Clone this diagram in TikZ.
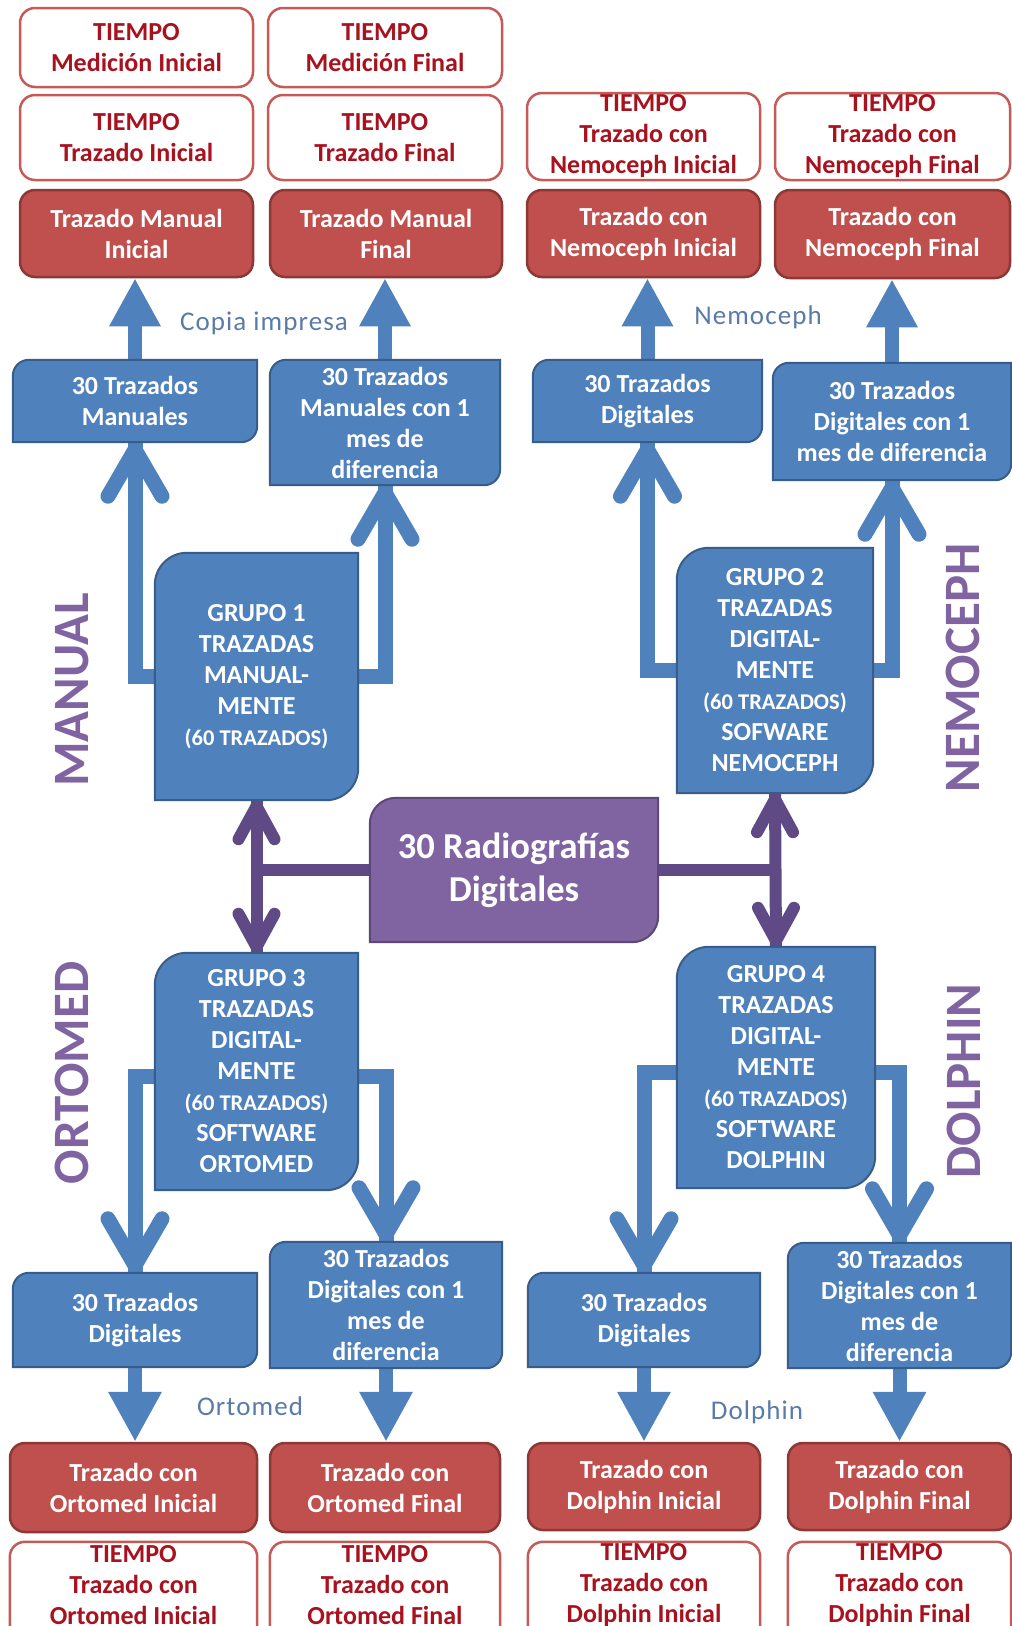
\documentclass[tikz,border=0pt]{standalone}
\usepackage{fontspec}
\setmainfont{Carlito}
\newfontfamily\lblfont[LetterSpace=4]{Carlito}
\usetikzlibrary{arrows.meta,calc}

\definecolor{bfill}{HTML}{4F81BD}
\definecolor{bline}{HTML}{385D8A}
\definecolor{rfill}{HTML}{C0504D}
\definecolor{rline}{HTML}{8C3836}
\definecolor{wline}{HTML}{C65A57}
\definecolor{rtext}{HTML}{A8121E}
\definecolor{pfill}{HTML}{8064A2}
\definecolor{pline}{HTML}{5C4776}
\definecolor{parrow}{HTML}{5F4A86}
\definecolor{lblcol}{HTML}{5A7BA8}

\pgfdeclarelayer{bglayer}
\pgfdeclarelayer{arrowlayer}
\pgfdeclarelayer{shapelayer}
\pgfsetlayers{bglayer,arrowlayer,shapelayer,main}

\newcommand\smallcount{\fontsize{22.5}{27}\selectfont}

\tikzset{
  txt/.style={inner sep=0pt, align=center, font=\bfseries\fontsize{26}{31}\selectfont},
  whitebox/.style={txt, fill=white, draw=wline, line width=2.5, rounded corners=15, text=rtext},
  whitetext/.style={txt, text=rtext},
  whiteshape/.style={fill=white, draw=wline, line width=2.5, rounded corners=15},
  redbox/.style={txt, fill=rfill, draw=rline, line width=2.5, rounded corners=15, text=white},
  bluetext/.style={txt, text=white},
  bluepath/.style={fill=bfill, draw=bline, line width=2},
  purplepath/.style={fill=pfill, draw=pline, line width=2},
  purpletext/.style={txt, text=white, font=\bfseries\fontsize{36.5}{43}\selectfont},
  bshaft/.style={draw=bfill, line width=14},
  belbow/.style={draw=bfill, line width=15},
  bchev/.style={draw=bfill, line width=15, line cap=round, line join=round},
  pshaft/.style={draw=parrow, line width=12},
  pchev/.style={draw=parrow, line width=12, line cap=round, line join=round},
  lbl/.style={inner sep=0pt, font=\lblfont\fontsize{27}{30}\selectfont, text=lblcol},
  vert/.style={inner sep=0pt, rotate=90, text=pfill, font=\bfseries\fontsize{51}{51}\selectfont},
  pics/bv/.style={code={\draw[bchev] (-27,54) -- (0,7.5) -- (27,54);}},
  pics/pv/.style={code={\draw[pchev] (-18,39) -- (0,6) -- (18,39);}},
}

% node from its corner coordinates: name, x1, y1, x2, y2, style, text
\newcommand\mkbox[7]{%
  \node[#6, minimum width={#4-#2}, minimum height={#5-#3}] (#1) at ({(#2+#4)/2},{(#3+#5)/2}) {#7};}

% box with rounded top-left and bottom-right corners: node, radius, style
\newcommand\diagshape[3]{%
  \begin{pgfonlayer}{shapelayer}
  \draw[#3] (#1.south west) -- ($(#1.north west)+(0,#2)$)
    .. controls ($(#1.north west)+(0,{0.45*#2})$) and ($(#1.north west)+({0.45*#2},0)$) .. ($(#1.north west)+(#2,0)$)
    -- (#1.north east) -- ($(#1.south east)+(0,-#2)$)
    .. controls ($(#1.south east)+(0,{-0.45*#2})$) and ($(#1.south east)+({-0.45*#2},0)$) .. ($(#1.south east)+(-#2,0)$)
    -- cycle;
  \end{pgfonlayer}}

% white box running past the lower edge of the page
\newcommand\openwhite[1]{%
  \begin{pgfonlayer}{shapelayer}
  \draw[whiteshape] (#1.north west) rectangle ($(#1.south east)+(0,40)$);
  \end{pgfonlayer}}

\begin{document}
\begin{tikzpicture}[x=1pt, y=-1pt]
\path[use as bounding box] (0,0) rectangle (1012,1626);
\begin{pgfonlayer}{bglayer}
  \fill[white] (0,0) rectangle (1012,1626);
\end{pgfonlayer}

% ---------- top: manual tracing ----------
\mkbox{w1}{20}{8}{253}{87}{whitebox}{TIEMPO\\Medición Inicial}
\mkbox{w2}{268}{8}{502}{87}{whitebox}{TIEMPO\\Medición Final}
\mkbox{w3}{20}{95}{253}{180}{whitebox}{TIEMPO\\Trazado Inicial}
\mkbox{w4}{268}{95}{502}{180}{whitebox}{TIEMPO\\Trazado Final}
\mkbox{r1}{20}{190}{253}{277}{redbox}{Trazado Manual\\Inicial}
\mkbox{r2}{270}{190}{502}{277}{redbox}{Trazado Manual\\Final}

% ---------- top: Nemoceph ----------
\mkbox{w5}{527}{93}{760}{180}{whitebox}{TIEMPO\\Trazado con\\Nemoceph Inicial}
\mkbox{w6}{775}{93}{1010}{180}{whitebox}{TIEMPO\\Trazado con\\Nemoceph Final}
\mkbox{r3}{527}{190}{760}{277}{redbox}{Trazado con\\Nemoceph Inicial}
\mkbox{r4}{775}{190}{1010}{278}{redbox}{Trazado con\\Nemoceph Final}

% ---------- tracing sets ----------
\mkbox{m1}{13}{360}{257}{442}{bluetext}{30 Trazados\\Manuales}
\mkbox{m2}{270}{360}{500}{485}{bluetext}{30 Trazados\\Manuales con 1\\mes de\\diferencia}
\mkbox{n1}{533}{360}{762}{442}{bluetext}{30 Trazados\\Digitales}
\mkbox{n2}{773}{363}{1011}{480}{bluetext}{30 Trazados\\Digitales con 1\\mes de diferencia}
\diagshape{m1}{16}{bluepath}
\diagshape{m2}{16}{bluepath}
\diagshape{n1}{16}{bluepath}
\diagshape{n2}{16}{bluepath}

% ---------- groups ----------
\mkbox{g1}{155}{553}{358}{800}{bluetext}{GRUPO 1\\TRAZADAS\\MANUAL-\\MENTE\\{\smallcount (60 TRAZADOS)}}
\mkbox{g2}{677}{548}{873}{793}{bluetext}{GRUPO 2\\TRAZADAS\\DIGITAL-\\MENTE\\{\smallcount (60 TRAZADOS)}\\SOFWARE\\NEMOCEPH}
\mkbox{g3}{155}{953}{358}{1190}{bluetext}{GRUPO 3\\TRAZADAS\\DIGITAL-\\MENTE\\{\smallcount (60 TRAZADOS)}\\SOFTWARE\\ORTOMED}
\mkbox{g4}{677}{947}{875}{1188}{bluetext}{GRUPO 4\\TRAZADAS\\DIGITAL-\\MENTE\\{\smallcount (60 TRAZADOS)}\\SOFTWARE\\DOLPHIN}
\diagshape{g1}{32}{bluepath}
\diagshape{g2}{32}{bluepath}
\diagshape{g3}{32}{bluepath}
\diagshape{g4}{32}{bluepath}

% ---------- central source ----------
\mkbox{pb}{370}{798}{658}{942}{purpletext}{30 Radiografías\\Digitales}
\diagshape{pb}{26}{purplepath}

% ---------- bottom: Ortomed and Dolphin ----------
\mkbox{o1}{13}{1273}{257}{1367}{bluetext}{30 Trazados\\Digitales}
\mkbox{o2}{270}{1242}{502}{1368}{bluetext}{30 Trazados\\Digitales con 1\\mes de\\diferencia}
\mkbox{d1}{528}{1273}{760}{1367}{bluetext}{30 Trazados\\Digitales}
\mkbox{d2}{788}{1243}{1011}{1368}{bluetext}{30 Trazados\\Digitales con 1\\mes de\\diferencia}
\diagshape{o1}{16}{bluepath}
\diagshape{o2}{16}{bluepath}
\diagshape{d1}{16}{bluepath}
\diagshape{d2}{16}{bluepath}

\mkbox{r5}{10}{1443}{257}{1532}{redbox}{Trazado con\\Ortomed Inicial}
\mkbox{r6}{270}{1443}{500}{1532}{redbox}{Trazado con\\Ortomed Final}
\mkbox{r7}{528}{1443}{760}{1530}{redbox}{Trazado con\\Dolphin Inicial}
\mkbox{r8}{788}{1443}{1011}{1530}{redbox}{Trazado con\\Dolphin Final}

\mkbox{w7}{10}{1542}{257}{1628}{whitetext}{TIEMPO\\Trazado con\\Ortomed Inicial}
\mkbox{w8}{270}{1542}{500}{1628}{whitetext}{TIEMPO\\Trazado con\\Ortomed Final}
\mkbox{w9}{528}{1542}{760}{1628}{whitetext}{TIEMPO\\Trazado con\\Dolphin Inicial}
\mkbox{w10}{788}{1542}{1011}{1628}{whitetext}{TIEMPO\\Trazado con\\Dolphin Final}
\openwhite{w7}
\openwhite{w8}
\openwhite{w9}
\openwhite{w10}

% ---------- side titles and arrow labels ----------
\node[vert] (tman) at (72,690) {MANUAL};
\node[vert] (tnem) at (963,668) {NEMOCEPH};
\node[vert] (tort) at (72,1073) {ORTOMED};
\node[vert] (tdol) at (964,1081) {DOLPHIN};

\node[lbl] (lcop) at (264,323) {Copia impresa};
\node[lbl] (lnem) at (758,317) {Nemoceph};
\node[lbl] (lort) at (250,1406) {Ortomed};
\node[lbl] (ldol) at (757,1412) {Dolphin};

% ---------- connectors ----------
\begin{pgfonlayer}{arrowlayer}
  % straight arrows to the red result boxes
  \draw[bshaft, -{Triangle[length=48pt,width=48pt]}] (m1.north) -- (m1.north |- r1.south);
  \draw[bshaft, -{Triangle[length=48pt,width=48pt]}] (m2.north) -- (m2.north |- r2.south);
  \draw[bshaft, -{Triangle[length=48pt,width=48pt]}] (n1.north) -- (n1.north |- r3.south);
  \draw[bshaft, -{Triangle[length=48pt,width=48pt]}] (n2.north) -- (n2.north |- r4.south);
  \draw[bshaft, -{Triangle[length=50pt,width=50pt]}] (o1.south) -- (o1.south |- r5.north);
  \draw[bshaft, -{Triangle[length=50pt,width=50pt]}] (o2.south) -- (o2.south |- r6.north);
  \draw[bshaft, -{Triangle[length=50pt,width=50pt]}] (d1.south) -- (d1.south |- r7.north);
  \draw[bshaft, -{Triangle[length=50pt,width=50pt]}] (d2.south) -- (d2.south |- r8.north);

  % elbow arrows from the groups to their tracing sets
  \coordinate (g3h) at ($(g3.center)+(0,5)$);
  \coordinate (g4h) at ($(g4.center)+(0,5)$);
  \draw[belbow] (g1.center) -- (g1.center -| m1.south) -- (m1.south);
  \draw[belbow] (g1.center) -- (g1.center -| m2.south) -- (m2.south);
  \draw[belbow] (g2.center) -- (g2.center -| n1.south) -- (n1.south);
  \draw[belbow] (g2.center) -- (g2.center -| n2.south) -- (n2.south);
  \draw[belbow] (g3h) -- (g3h -| o1.north) -- (o1.north);
  \draw[belbow] (g3h) -- (g3h -| o2.north) -- (o2.north);
  \draw[belbow] (g4h) -- (g4h -| d1.north) -- (d1.north);
  \draw[belbow] (g4h) -- (g4h -| d2.north) -- (d2.north);
  \pic at (m1.south) {bv};
  \pic at (m2.south) {bv};
  \pic at (n1.south) {bv};
  \pic at (n2.south) {bv};
  \pic[rotate=180] at (o1.north) {bv};
  \pic[rotate=180] at (o2.north) {bv};
  \pic[rotate=180] at (d1.north) {bv};
  \pic[rotate=180] at (d2.north) {bv};

  % double arrows from the radiographs to the groups
  \draw[pshaft] (g1.south) -- (g3.north);
  \draw[pshaft] (g2.south) -- (g4.north);
  \draw[pshaft] (pb.west) -- (pb.west -| g1.south);
  \draw[pshaft] (pb.east) -- (pb.east -| g2.south);
  \pic at (g1.south) {pv};
  \pic[rotate=180] at (g3.north) {pv};
  \pic at (g2.south) {pv};
  \pic[rotate=180] at (g4.north) {pv};
\end{pgfonlayer}
\end{tikzpicture}
\end{document}
